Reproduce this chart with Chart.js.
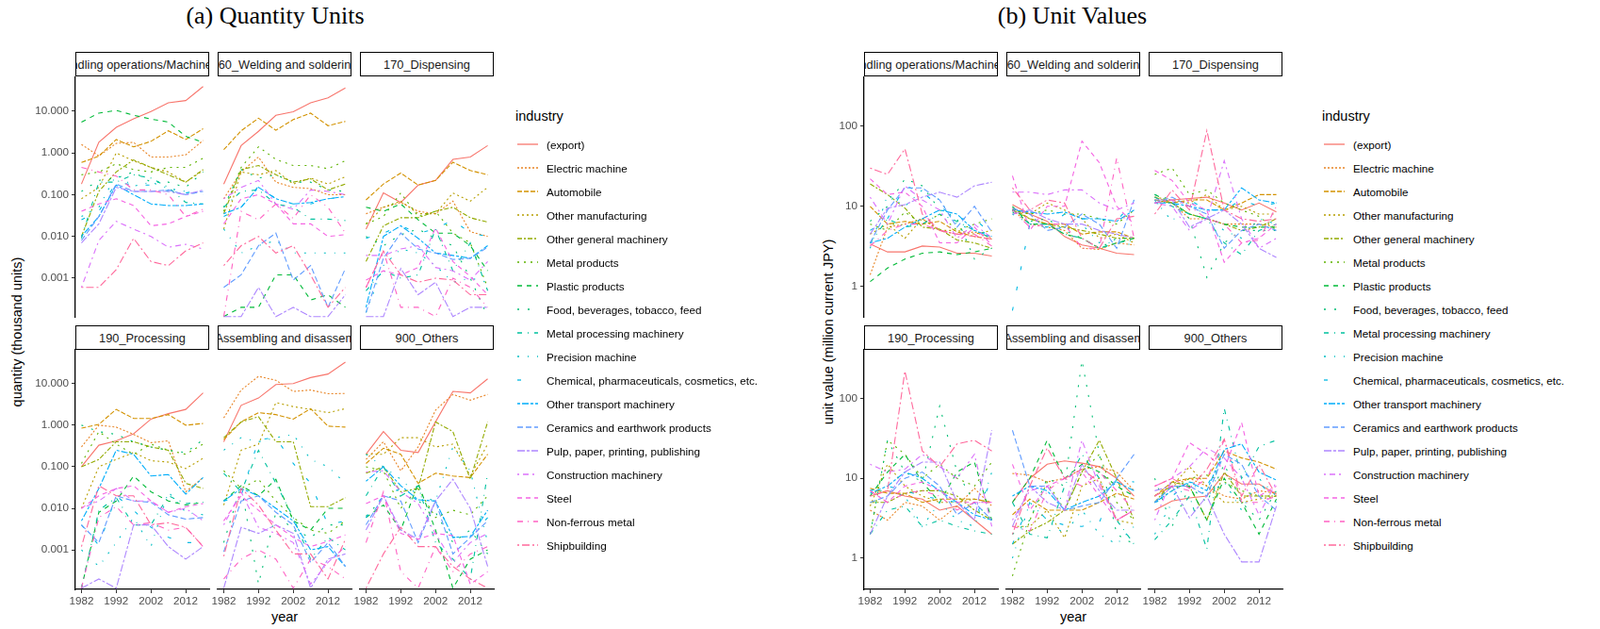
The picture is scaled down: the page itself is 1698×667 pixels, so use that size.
<!DOCTYPE html>
<html>
<head>
<meta charset="utf-8">
<script src="https://cdn.jsdelivr.net/npm/chart.js@4.4.1/dist/chart.umd.min.js"></script>
<style>
  body { margin: 0; background: #fff; font-family: "Liberation Sans", Arial, sans-serif; }
  #root { position: relative; width: 1698px; height: 667px; overflow: hidden; }
  .abs { position: absolute; }
  .title { font-family: "Liberation Serif", "Times New Roman", serif; font-size: 26px; color: #000; transform: translateX(-50%); white-space: nowrap; }
  .strip { box-sizing: border-box; border: 1.5px solid #000; display: flex; justify-content: center; align-items: center;
           overflow: hidden; white-space: nowrap; font-size: 12.8px; color: #1a1a1a; background: #fff; }
  .ytitle { font-size: 14.5px; white-space: nowrap; transform: translate(-50%, -50%) rotate(-90deg); }
  .xtitle { font-size: 14.5px; white-space: nowrap; transform: translateX(-50%); }
  .legtitle { font-size: 14.5px; }
  .legitem { font-size: 11.7px; display: flex; align-items: center; white-space: nowrap; height: 20px; }
  .legitem svg { margin-right: 9px; }
</style>
</head>
<body>
<div id="root"></div>
<script>
// ---- data ----
const years = [1982, 1987, 1992, 1997, 2002, 2007, 2012, 2017];
const xTicks = [1982, 1992, 2002, 2012];
const qtyTicks = [0.001, 0.01, 0.1, 1, 10];
const uvTicks = [1, 10, 100];

const industries = ['(export)', 'Electric machine', 'Automobile', 'Other manufacturing',
  'Other general machinery', 'Metal products', 'Plastic products', 'Food, beverages, tobacco, feed',
  'Metal processing machinery', 'Precision machine', 'Chemical, pharmaceuticals, cosmetics, etc.',
  'Other transport machinery', 'Ceramics and earthwork products', 'Pulp, paper, printing, publishing',
  'Construction machinery', 'Steel', 'Non-ferrous metal', 'Shipbuilding'];

const facetNames = ['110_Handling operations/Machine tending', '160_Welding and soldering', '170_Dispensing',
  '190_Processing', '200_Assembling and disassembling', '900_Others'];

// quantity (thousand units), one row per industry
const qty110 = [
  [0.18,1.8,4.1,6.6,9.8,16,18,39], [1.6,0.85,1.7,1.8,0.8,0.8,0.9,2.0], [0.59,0.84,2.1,1.4,1.9,3.4,2.1,3.8],
  [0.08,0.15,1.0,0.65,0.45,0.35,0.2,0.38], [0.01,0.12,0.35,0.68,0.45,0.3,0.2,0.4], [0.3,0.35,0.55,0.4,0.35,0.45,0.45,0.75],
  [5.5,9,10.5,8,6.5,5.5,2.5,1.8], [0.12,0.22,0.25,0.35,0.2,0.2,0.15,0.35], [0.009,0.2,0.2,0.3,0.25,0.15,0.065,0.06],
  [0.03,0.05,0.3,0.16,0.2,0.14,0.12,0.1], [0.025,0.04,0.2,0.17,0.17,0.12,0.11,0.13], [0.01,0.03,0.17,0.1,0.06,0.055,0.055,0.06],
  [0.008,0.03,0.18,0.12,0.12,0.13,0.1,0.12], [0.007,0.02,0.15,0.12,0.12,0.12,0.1,0.13], [0.0006,0.008,0.023,0.015,0.01,0.0055,0.0065,0.005],
  [0.04,0.06,0.08,0.055,0.018,0.02,0.03,0.04], [0.45,0.35,0.28,0.13,0.13,0.1,0.03,0.045], [0.0006,0.0006,0.0016,0.009,0.0025,0.002,0.0045,0.007]
];
const qty160 = [
  [0.18,1.5,3.3,8,9.7,16,21,36], [0.08,0.35,0.8,0.2,0.15,0.14,0.1,0.1], [1.2,3.4,6.8,3.5,6.3,9,4.5,5.7],
  [0.015,0.35,0.3,0.38,0.18,0.25,0.18,0.27], [0.035,0.4,0.5,0.3,0.2,0.24,0.13,0.18], [0.04,0.45,1.4,0.7,0.5,0.5,0.42,0.65],
  [0.00012,0.0002,0.0002,0.0012,0.0012,0.0003,0.0004,0.0002], [0.05,0.4,0.25,0.3,0.2,0.2,0.13,0.12], [0.05,0.12,0.13,0.06,0.05,0.026,0.026,0.024],
  [0.015,0.004,0.006,0.008,0.004,0.004,0.004,0.004], [0.03,0.05,0.16,0.08,0.06,0.06,0.08,0.09], [0.035,0.05,0.15,0.08,0.06,0.065,0.08,0.09],
  [0.0006,0.0012,0.006,0.012,0.0009,0.002,0.0002,0.0017], [0.00012,0.00012,0.0006,0.00012,0.0002,0.00012,0.00012,0.0004], [0.08,0.15,0.22,0.06,0.045,0.13,0.12,0.1],
  [0.02,0.08,0.1,0.06,0.02,0.02,0.01,0.011], [0.00012,0.04,0.025,0.06,0.027,0.1,0.05,0.012], [0.002,0.006,0.01,0.004,0.006,0.0012,0.0002,0.0006]
];
const qty170 = [
  [0.015,0.11,0.065,0.17,0.22,0.7,0.8,1.5], [0.035,0.05,0.065,0.04,0.035,0.07,0.013,0.01], [0.075,0.18,0.33,0.17,0.22,0.6,0.38,0.3],
  [0.02,0.05,0.07,0.035,0.035,0.11,0.07,0.15], [0.0025,0.018,0.028,0.028,0.04,0.05,0.028,0.022], [0.02,0.03,0.11,0.03,0.04,0.012,0.007,0.0006],
  [0.05,0.04,0.06,0.025,0.012,0.012,0.006,0.0015], [0.01,0.006,0.011,0.015,0.009,0.006,0.001,0.00012], [0.0005,0.0015,0.001,0.0012,0.015,0.0015,0.007,0.0005],
  [0.00015,0.002,0.005,0.004,0.002,0.0008,0.001,0.0008], [0.009,0.012,0.018,0.012,0.015,0.025,0.012,0.01], [0.0002,0.01,0.018,0.009,0.004,0.0035,0.003,0.006],
  [0.00015,0.003,0.012,0.005,0.004,0.0028,0.003,0.0055], [0.00012,0.00012,0.0017,0.0004,0.0008,0.00012,0.0002,0.0002], [0.0035,0.0035,0.005,0.006,0.0018,0.0015,0.0009,0.0025],
  [0.0009,0.0015,0.0012,0.0018,0.016,0.0025,0.0011,0.0004], [0.0006,0.0045,0.0002,0.0002,0.00012,0.001,0.0006,0.0002], [0.0006,0.0045,0.0012,0.0008,0.001,0.0009,0.0004,0.0004]
];
const qty190 = [
  [0.1,0.33,0.42,0.62,1.4,1.9,2.4,6], [0.3,1.0,0.9,0.6,0.38,0.42,0.025,0.055], [0.85,1.05,2.4,1.45,1.45,1.8,1.0,1.1],
  [0.01,0.1,0.15,0.22,0.14,0.13,0.09,0.16], [0.1,0.15,0.4,0.4,0.3,0.25,0.04,0.03], [0.12,0.7,0.35,0.2,0.35,0.25,0.2,0.35],
  [0.00012,0.008,0.015,0.06,0.025,0.015,0.012,0.014], [1.0,0.7,0.6,0.4,0.3,0.25,0.22,0.45], [0.00012,0.009,0.018,0.004,0.004,0.02,0.013,0.014],
  [0.001,0.0004,0.0015,0.006,0.0012,0.025,0.008,0.007], [0.004,0.0013,0.02,0.009,0.0035,0.002,0.0015,0.0015], [0.005,0.03,0.25,0.2,0.06,0.065,0.022,0.055],
  [0.004,0.0015,0.02,0.015,0.014,0.007,0.0055,0.006], [0.00012,0.0002,0.00012,0.004,0.004,0.0012,0.0006,0.0012], [0.01,0.015,0.03,0.015,0.015,0.008,0.01,0.005],
  [0.01,0.02,0.03,0.035,0.015,0.008,0.011,0.013], [0.00012,0.006,0.011,0.004,0.0045,0.003,0.0035,0.0012], [0.0012,0.035,0.02,0.02,0.004,0.0045,0.0035,0.0012]
];
const qty200 = [
  [0.4,3,4.5,9.5,10,14,17,33], [1.5,7,15,12,6.5,7,5.7,5.8], [0.45,1.2,2,1.8,1.4,2.5,0.95,0.9],
  [0.012,0.25,0.35,3.5,2.8,2.4,2.0,2.5], [0.5,1.2,1.6,0.4,0.4,0.011,0.011,0.018], [0.08,0.03,0.05,0.015,0.006,0.003,0.0025,0.005],
  [0.015,0.035,0.02,0.05,0.005,0.003,0.01,0.01], [0.0015,0.035,0.00015,0.008,0.003,0.002,0.004,0.004], [0.07,0.025,0.25,0.04,0.006,0.0006,0.002,0.001],
  [0.25,0.5,0.4,0.5,0.6,0.15,0.1,0.04], [0.015,0.02,0.45,0.5,0.12,0.04,0.004,0.005], [0.015,0.03,0.02,0.01,0.005,0.001,0.0012,0.0004],
  [0.0009,0.015,0.02,0.008,0.004,0.0005,0.0015,0.0004], [0.00012,0.0035,0.0025,0.004,0.0025,0.00012,0.0006,0.0008], [0.004,0.025,0.0035,0.0025,0.0015,0.00015,0.0005,0.0012],
  [0.005,0.02,0.009,0.004,0.002,0.0012,0.0016,0.0023], [0.0002,0.0006,0.001,0.0006,0.00012,0.0006,0.0004,0.0002], [0.0007,0.03,0.012,0.003,0.0008,0.0008,0.0002,0.0018]
];
const qty900 = [
  [0.2,0.7,0.25,0.22,1.2,6.5,6,13], [0.15,0.4,0.08,0.3,2.3,5.5,4,5.5], [0.12,0.28,0.2,0.04,0.07,0.06,0.055,0.2],
  [0.2,0.2,0.5,0.5,0.3,0.35,0.06,0.35], [0.07,0.1,0.025,0.03,1.2,0.7,0.05,1.2], [0.1,0.08,0.01,0.03,0.006,0.009,0.007,0.02],
  [0.006,0.012,0.003,0.04,0.003,0.00012,0.0006,0.001], [0.0065,0.018,0.02,0.015,0.008,0.0015,0.003,0.0008], [0.02,0.1,0.02,0.035,0.0015,0.0006,0.0002,0.07],
  [0.2,0.1,0.05,0.02,0.015,0.3,0.08,0.0015], [0.006,0.02,0.03,0.015,0.015,0.002,0.002,0.006], [0.045,0.1,0.035,0.016,0.015,0.002,0.0021,0.009],
  [0.004,0.02,0.015,0.0015,0.015,0.0008,0.002,0.005], [0.003,0.02,0.003,0.0018,0.015,0.05,0.01,0.0004], [0.075,0.08,0.025,0.013,0.0025,0.0005,0.0015,0.0025],
  [0.013,0.02,0.0025,0.0018,0.0025,0.0022,0.00015,0.0003], [0.0015,0.025,0.0003,0.00012,0.0012,0.0003,0.0008,0.0012], [0.00012,0.0008,0.0035,0.0012,0.0012,0.0004,0.0002,0.00012]
];

// unit value (million current JPY), one row per industry
const uv110 = [
  [3.4,2.7,2.7,3.2,3.1,2.6,2.6,2.4], [1.4,5.5,6,7,5,4.5,4.8,4], [10,6,6.5,6,6.5,4.8,4.2,3.9],
  [4.5,6,4,7,5,5,4.5,5], [19,14,9.5,5.5,5.2,3.8,3.5,3], [6,5,8.5,6,8,5,6,7],
  [1.15,1.7,2.2,2.6,2.7,2.5,2.7,3.0], [6.5,10,22,18,9,7,2.2,3], [3.5,7,5.5,6,8,6.5,5,4],
  [3,14,10,16,12,6,5,4.5], [5,7,18,15,10,7,7,4.5], [3.5,4,5.5,7,9,8,5,4.2],
  [3.5,9,17,17,12,5.5,10,4.8], [4.5,9.5,10.5,13,15,13,18,20], [13,6,18,12,9,4,6,4],
  [22,14,15,10,3.5,3.5,5.5,3.3], [3.2,5,6,6,5,4.5,4.5,3.2], [30,25,52,8,5,4.5,4.2,3.9]
];
const uv160 = [
  [10.5,8,6.5,4.2,3.3,3,2.6,2.5], [9,6,5.5,5,3,2.9,3.5,3.3], [9.5,7,6,6,4.5,4.8,4.8,4],
  [9,8,11,9,7,4,4.5,3.5], [9,7,6,5.5,5,4.5,4,4], [9,8,9,8,8,7,6,9],
  [10,6,6,4.5,4,3,3.5,4], [8.5,6.5,7,5,4,3,4,4], [9,6,6,4.5,4,3,3.5,3.8],
  [8,6,6,5,6,3.5,3.5,3.3], [0.5,6,5.5,8,7,7,6.5,12], [9,8.5,8,8.5,7,7,6.5,9],
  [9.5,8,5,5.5,8,6,3,12], [8,9,7,6,6,5,4.5,4], [15,15,14,16,16,11,9,11],
  [24,5,10,10,65,35,10,6], [9,5.5,6,6,3,3,40,4], [17,9,12,11,4,3,7,7.5]
];
const uv170 = [
  [11,12,12.5,13,11,9,11,8.5], [12,11,7,7,6,6,6,5.5], [13,11,12,12,9,11,14,14],
  [13,12,11,14,9,10,8,8], [12,11,8,7,6,5,5.5,7], [25,30,14,16,11,9,7.5,5],
  [14,11,8,7,6,5.5,5.5,5.5], [14,12,7,1.3,3.5,5,5,5], [13,10,8,7,3.5,2.5,5,6],
  [12,6.5,12,7,5,4,7,6], [11,10,12,9,9,12,10,11], [11,11,10,9,9,17,12,11],
  [11,13,10,8,3,5,6,5], [12,12,5.5,7,9,6,3,2.3], [11,10,5,7,37,7,3,4],
  [28,21,11,9,2,3.5,4,6], [11,12,10,7,6,3.5,3.8,10], [8,16,9,88,9,7,6.5,7]
];
const uv190 = [
  [6,7,6,5.5,4,4.5,3,2], [4,3,5,4.5,3,4.5,7.5,4.5], [7.5,6.5,6.5,5,5.5,5.5,5.5,5],
  [4.5,15,8,6,5,5,5.5,5], [5,5,6.5,7,7,6,4,3], [2,30,20,10,15,10,8,16],
  [6,12,20,9,5,12,16,3], [2,30,12,9,80,12,5,3], [2,4,4.5,2.5,3,2.5,2.2,2],
  [7,7,6,2.5,5,3,2.5,12], [7,8,7,6,5.5,5,3,10], [6.5,8,12,10,7,5,3.5,3],
  [5,6,10,12,8,3.5,5,3], [2,6,12,16,16,5,3,40], [15,12,13,20,14,10,20,2.5],
  [7,5,8,9,7,5,5,5], [7,5,6.5,7,6,4,5,5], [6,7,220,22,14,27,30,22]
];
const uv200 = [
  [5,10,15,16.5,15.5,14,10,6], [11.5,11,9,10,13,14,12,7], [3.5,5.5,4,4,4,5,6.5,5.5],
  [2.5,2.5,4,1.8,8,10,3,2.7], [1.5,2.2,2.8,4,12,30,10,3], [0.6,3,9,4,12,20,5,3],
  [5,10,30,10,15,12,8,6], [2,3,10,8,300,20,2,1.5], [5,2,1.8,8,20,10,3,1.5],
  [1,5,3,2,4,2,1.5,2.5], [1.5,5,3,2.6,2.5,2.8,10,9], [6,8,7,4,5,6,9,7],
  [40,8,8,4,4.5,5,10,20], [2.5,8,5,4,15,7,4,4], [3,7,8,4,30,8,3,4],
  [15,4,8,10,12,6,3,4], [2.5,2.2,7,10,8,12,7,4], [2,8,24,10,13,9,3,4]
];
const uv900 = [
  [4,5.2,5.7,6,11.5,8.5,8.5,6.3], [6,8,10,8,6,5.5,7,6.5], [6,9,10,10,22,18,16,13],
  [6,8,14,8,5,5,5.5,6], [5,9,8,3,12,6,6,6], [5,7,10,11,9,7,6,6],
  [5,8,8,3,10,5,2,5.5], [10,2.5,8,5,15,5,3,7], [1.7,3,6,1.3,75,10,25,30],
  [2,5,9,6,9,4,10,6], [5,6,9,8,20,12,9,5], [5,7,9,7,23,27,12,9.5],
  [5,8,8,6,20,15,6,4], [7,8,3.2,6,2,0.9,0.9,4.5], [3,10,14,24,18,10,3.5,9],
  [8,10,28,20,13,50,6,8], [6,8,7,10,30,5,5,6], [8,10,7.5,13,31,6,15,6]
];

// ---- styles ----
// ggplot-like hue palette (HCL, c=100, l=65)
function hcl(h, c, l) {
  const hr = h * Math.PI / 180;
  const U = c * Math.cos(hr), V = c * Math.sin(hr);
  const Xn = 95.047, Yn = 100, Zn = 108.883;
  const d = Xn + 15 * Yn + 3 * Zn, un = 4 * Xn / d, vn = 9 * Yn / d;
  const Y = Yn * (l > 8 ? Math.pow((l + 16) / 116, 3) : l / 903.3);
  const u = U / (13 * l) + un, v = V / (13 * l) + vn;
  const X = 9 * Y * u / (4 * v), Z = -X / 3 - 5 * Y + 3 * Y / v;
  const x = X / 100, y = Y / 100, z = Z / 100;
  const lin = [3.240479 * x - 1.537150 * y - 0.498535 * z,
               -0.969256 * x + 1.875992 * y + 0.041556 * z,
               0.055648 * x - 0.204043 * y + 1.057311 * z];
  const g = lin.map(t => {
    t = t <= 0.0031308 ? 12.92 * t : 1.055 * Math.pow(t, 1 / 2.4) - 0.055;
    return Math.round(Math.min(1, Math.max(0, t)) * 255);
  });
  return `rgb(${g[0]},${g[1]},${g[2]})`;
}
const colors = industries.map((_, i) => hcl(15 + 360 * i / industries.length, 100, 65));
const dashes = [[], [2, 2], [5, 2], [2, 3], [5, 2, 2, 2], [2, 5], [5, 5], [2, 9], [5, 6, 1, 6],
  [2, 9, 1, 9], [4, 18], [3, 2, 7, 2], [6, 3], [8, 2, 3, 2], [2, 4, 6, 4], [5, 4], [6, 5, 1, 5], [2, 3, 8, 3]];

const FONT = '"Liberation Sans", Arial, sans-serif';
const root = document.getElementById('root');

function el(cls, style, text) {
  const d = document.createElement('div');
  d.className = 'abs ' + cls;
  Object.assign(d.style, style);
  if (text != null) d.textContent = text;
  root.appendChild(d);
  return d;
}

const rowTop = [81, 370], rowH = [256, 255], stripTop = [55, 345];
const colW = 142;

const panels = [
  { cols: [80, 231, 382], data: [qty110, qty160, qty170, qty190, qty200, qty900],
    yMin: Math.pow(10, -3.95), yMax: Math.pow(10, 1.835), ticks: qtyTicks, fmt: v => v.toFixed(3),
    title: '(a) Quantity Units', titleX: 292, ytitle: 'quantity (thousand units)', ytitleX: 18, legX: 547 },
  { cols: [917, 1068, 1219], data: [uv110, uv160, uv170, uv190, uv200, uv900],
    yMin: Math.pow(10, -0.39), yMax: Math.pow(10, 2.62), ticks: uvTicks, fmt: v => String(v),
    title: '(b) Unit Values', titleX: 1138, ytitle: 'unit value (million current JPY)', ytitleX: 879, legX: 1403 }
];

function drawFacet(p, r, c, values) {
  const left = p.cols[c];
  const showY = c === 0, showX = r === 1;
  const padL = showY ? 60 : 16, padR = 16, padB = showX ? 24 : 0;
  const cv = document.createElement('canvas');
  cv.width = colW + padL + padR;
  cv.height = rowH[r] + padB;
  cv.className = 'abs';
  Object.assign(cv.style, { left: (left - padL) + 'px', top: rowTop[r] + 'px' });
  root.appendChild(cv);

  new Chart(cv, {
    type: 'line',
    data: {
      datasets: industries.map((name, i) => ({
        label: name,
        data: years.map((yr, k) => ({ x: yr, y: values[i][k] })),
        borderColor: colors[i],
        borderWidth: 1.1,
        borderDash: dashes[i],
        pointRadius: 0,
        fill: false,
        tension: 0,
        order: industries.length - i
      }))
    },
    options: {
      responsive: false, animation: false, events: [],
      layout: { padding: { left: showY ? 0 : padL, right: padR, top: 0, bottom: 0 } },
      plugins: { legend: { display: false }, tooltip: { enabled: false } },
      scales: {
        x: {
          type: 'linear', min: 1980.25, max: 2018.75, bounds: 'data', display: showX,
          afterBuildTicks: s => { s.ticks = xTicks.map(v => ({ value: v })); },
          afterFit: s => { if (showX) s.height = 24; s.paddingLeft = 0; s.paddingRight = 0; },
          ticks: { color: '#4d4d4d', font: { family: FONT, size: 11.7 }, maxRotation: 0, padding: 2,
                   autoSkip: false, callback: v => String(v) },
          grid: { drawOnChartArea: false, drawTicks: true, tickLength: 4, color: '#333' },
          border: { display: true, color: '#000', width: 1.3 }
        },
        y: {
          type: 'logarithmic', min: p.yMin, max: p.yMax, bounds: 'data', display: showY,
          afterBuildTicks: s => { s.ticks = p.ticks.map(v => ({ value: v })); },
          afterFit: s => { if (showY) s.width = 60; s.paddingTop = 0; s.paddingBottom = 0; },
          ticks: { color: '#4d4d4d', font: { family: FONT, size: 11.7 }, padding: 3,
                   autoSkip: false, callback: v => p.fmt(v) },
          grid: { drawOnChartArea: false, drawTicks: true, tickLength: 4, color: '#333' },
          border: { display: true, color: '#000', width: 1.3 }
        }
      }
    }
  });
}

panels.forEach(p => {
  el('title', { left: p.titleX + 'px', top: '2px' }, p.title);
  el('ytitle', { left: p.ytitleX + 'px', top: '352px' }, p.ytitle);
  el('xtitle', { left: (p.cols[0] + (p.cols[2] + colW - p.cols[0]) / 2) + 'px', top: '646px' }, 'year');

  for (let r = 0; r < 2; r++) {
    for (let c = 0; c < 3; c++) {
      const f = r * 3 + c;
      const s = el('strip', { left: p.cols[c] + 'px', top: stripTop[r] + 'px', width: colW + 'px', height: '26px' });
      const span = document.createElement('span');
      span.textContent = facetNames[f];
      s.appendChild(span);
      drawFacet(p, r, c, p.data[f]);
    }
  }

  // legend
  el('legtitle', { left: p.legX + 'px', top: '115px' }, 'industry');
  industries.forEach((name, i) => {
    const it = el('legitem', { left: (p.legX + 2) + 'px', top: (143 + 25 * i) + 'px' });
    const svgNS = 'http://www.w3.org/2000/svg';
    const svg = document.createElementNS(svgNS, 'svg');
    svg.setAttribute('width', '22'); svg.setAttribute('height', '10');
    const ln = document.createElementNS(svgNS, 'line');
    ln.setAttribute('x1', '0'); ln.setAttribute('x2', '22');
    ln.setAttribute('y1', '5'); ln.setAttribute('y2', '5');
    ln.setAttribute('stroke', colors[i]); ln.setAttribute('stroke-width', '1.3');
    if (dashes[i].length) ln.setAttribute('stroke-dasharray', dashes[i].join(' '));
    svg.appendChild(ln);
    it.appendChild(svg);
    const t = document.createElement('span');
    t.textContent = name;
    it.appendChild(t);
  });
});
</script>
</body>
</html>
